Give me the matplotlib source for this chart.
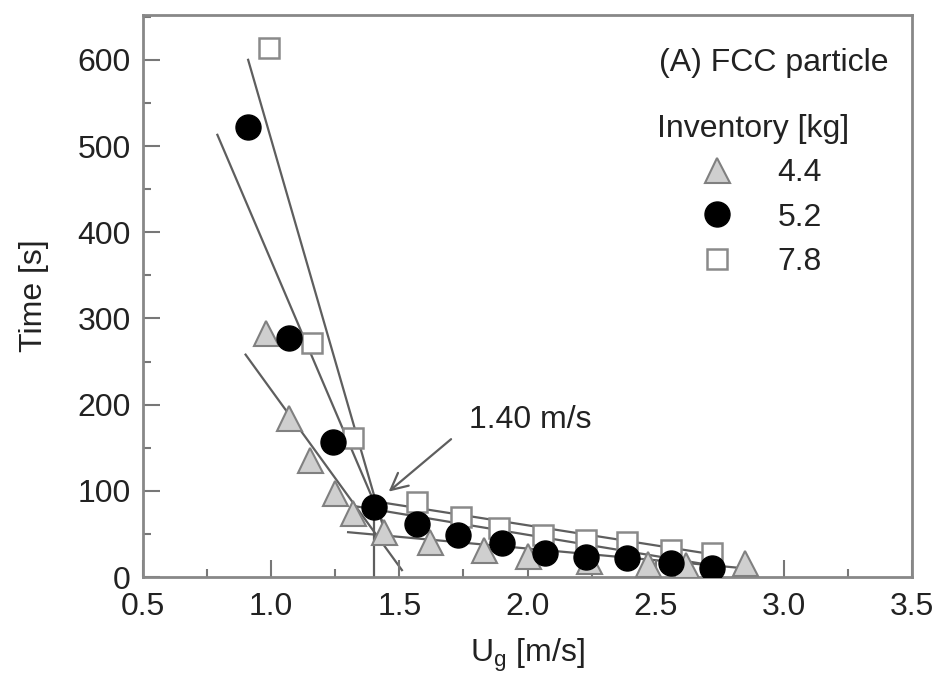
import numpy as np
import matplotlib
matplotlib.use('Agg')
import matplotlib.pyplot as plt

plt.rcParams['font.family'] = ['Liberation Sans', 'DejaVu Sans']

# inventory 4.4 kg (triangles)
u_44 = [0.98, 1.07, 1.15, 1.25, 1.32, 1.44, 1.62, 1.83, 2.00, 2.24, 2.47, 2.62, 2.85]
t_44 = [283, 184, 136, 97, 74, 52, 41, 31, 24, 19, 15, 14, 16]
# inventory 5.2 kg (circles)
u_52 = [0.91, 1.07, 1.24, 1.40, 1.57, 1.73, 1.90, 2.07, 2.23, 2.39, 2.56, 2.72]
t_52 = [522, 277, 157, 81, 61, 49, 40, 28, 23, 22, 16, 10]
# inventory 7.8 kg (squares)
u_78 = [0.99, 1.16, 1.32, 1.57, 1.74, 1.89, 2.06, 2.23, 2.39, 2.56, 2.72]
t_78 = [614, 272, 161, 87, 70, 57, 49, 43, 41, 31, 28]

# fitted straight lines (end points)
fit_lines = [
    ([0.91, 1.44], [600, 55]),   # 7.8 low velocity
    ([0.79, 1.44], [513, 60]),   # 5.2 low velocity
    ([0.90, 1.51], [258, 8]),    # 4.4 low velocity
    ([1.40, 2.75], [88, 25]),    # 7.8 high velocity
    ([1.33, 2.75], [82, 12]),    # 5.2 high velocity
    ([1.30, 2.85], [52, 10]),    # 4.4 high velocity
]
u_min = 1.40
t_min = 82

fs = 23
fig = plt.figure(figsize=(9.38, 6.79), dpi=100)
ax = fig.add_axes([0.1525, 0.1502, 0.8198, 0.8277])

for xs, ys in fit_lines:
    ax.plot(xs, ys, color='#5e5e5e', lw=1.6, zorder=1)
ax.plot([u_min, u_min], [0, t_min], color='#5e5e5e', lw=1.6, zorder=1)

h1, = ax.plot(u_44, t_44, ls='none', marker='^', ms=18, mfc='#cfcfcf', mec='#808080', mew=1.5, label='4.4', zorder=3)
h2, = ax.plot(u_52, t_52, ls='none', marker='o', ms=18, mfc='black', mec='black', label='5.2', zorder=4)
h3, = ax.plot(u_78, t_78, ls='none', marker='s', ms=15, mfc='white', mec='#8a8a8a', mew=1.8, label='7.8', zorder=2)

ax.annotate('', xy=(1.45, 97), xytext=(1.71, 162),
            arrowprops=dict(arrowstyle='->', color='#5e5e5e', lw=1.6, mutation_scale=30))
ax.text(1.77, 182, '1.40 m/s', fontsize=fs, va='center', ha='left', color='#222222')

ax.text(0.969, 0.915, '(A) FCC particle', transform=ax.transAxes, fontsize=fs,
        ha='right', va='center', color='#222222')
leg = ax.legend(handles=[h1, h2, h3], title='Inventory [kg]', frameon=False,
                loc='upper right', bbox_to_anchor=(0.935, 0.847), fontsize=fs,
                title_fontsize=fs, labelspacing=0.45, handletextpad=0.9,
                borderaxespad=0, markerscale=1.0)
for t in leg.get_texts():
    t.set_color('#222222')
leg.get_title().set_color('#222222')

ax.set_xlim(0.5, 3.5)
ax.set_ylim(0, 652)
ax.set_xticks(np.arange(0.5, 3.51, 0.5))
ax.set_xticks(np.arange(0.75, 3.5, 0.5), minor=True)
ax.set_yticks(np.arange(0, 601, 100))
ax.set_yticks(np.arange(50, 651, 100), minor=True)
ax.tick_params(which='both', direction='in', color='#777777', width=1.5,
               labelsize=fs, labelcolor='#222222')
ax.tick_params(which='major', length=12)
ax.tick_params(which='minor', length=6)
ax.tick_params(axis='x', pad=11)
ax.tick_params(axis='y', pad=9)
for s in ax.spines.values():
    s.set_color('#888888')
    s.set_linewidth(2)

ax.set_xlabel('U$_\\mathregular{g}$ [m/s]', fontsize=fs, color='#222222', labelpad=10)
ax.set_ylabel('Time [s]', fontsize=fs, color='#222222', labelpad=20)

fig.savefig('out.png', dpi=100)
